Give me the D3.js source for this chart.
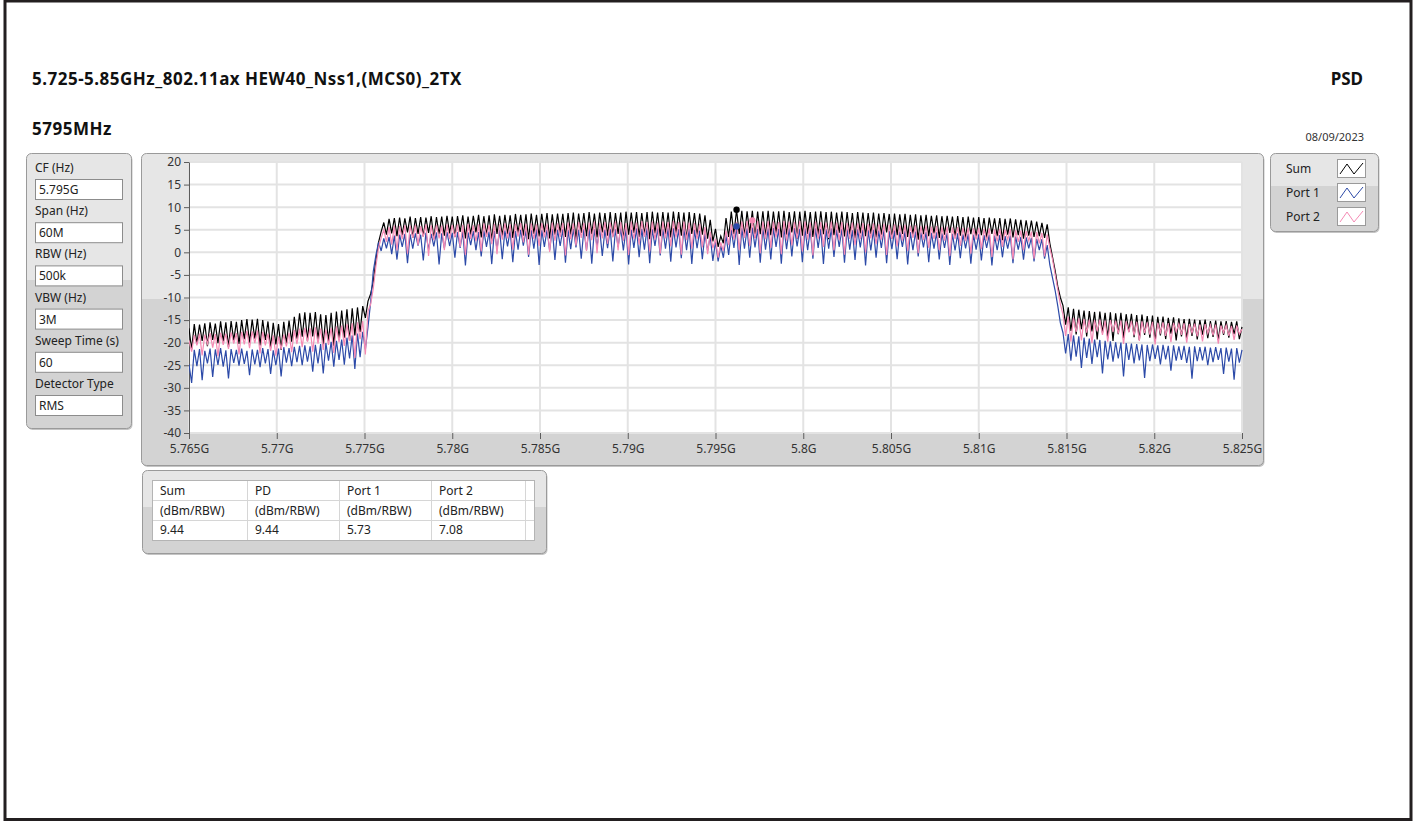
<!DOCTYPE html>
<html>
<head>
<meta charset="utf-8">
<script src="https://cdn.jsdelivr.net/npm/d3@7"></script>
<style>
  body { margin: 0; background: #fff; }
  text { font-family: "Segoe UI", "Noto Sans", sans-serif; }
</style>
</head>
<body>
<script>
const w = 1416
const h = 822

// sweep grid: 401 points, 5.765 GHz .. 5.825 GHz
const fStart = 5.765e9
const fStep = 0.15e6

// traces (dBm/RBW), one value per sweep point
const sumDbm = [
  -16.8, -21.5, -15.9, -20.2, -16.0, -19.6, -15.7, -20.8, -15.5, -19.4, -15.8, -20.1, -15.3, -19.7, -15.5, -21.0, -15.2, -19.5, -15.4, -20.3,
  -15.0, -19.2, -14.8, -20.0, -14.9, -19.1, -14.7, -20.6, -15.0, -19.4, -15.3, -21.2, -15.6, -20.4, -15.9, -21.6, -15.4, -20.2, -15.1, -19.8,
  -14.3, -19.1, -13.5, -18.7, -13.3, -19.6, -13.4, -18.6, -13.2, -19.3, -13.7, -20.4, -13.9, -19.8, -13.4, -20.7, -13.1, -19.2, -12.9, -18.9,
  -12.6, -19.6, -12.4, -18.4, -12.2, -17.6, -11.9, -14.5, -10.8, -9.2, -6.5, -1.8, 2.2, 4.6, 6.6, 3.9, 7.4, 4.2, 7.6, 3.6,
  7.7, 3.8, 7.5, 4.4, 7.9, 3.2, 7.6, 4.1, 7.8, 3.5, 7.7, 4.3, 8.0, 3.0, 7.8, 4.0, 7.9, 3.7, 8.1, 4.2,
  7.9, 3.4, 8.0, 4.5, 8.2, 3.1, 7.9, 3.9, 8.1, 4.4, 8.3, 3.3, 8.0, 3.8, 8.2, 2.6, 8.4, 4.1, 8.1, 3.6,
  8.3, 4.0, 8.2, 3.2, 8.5, 4.3, 8.3, 3.7, 8.4, 2.9, 8.6, 4.1, 8.3, 3.5, 8.5, 4.4, 8.7, 3.1, 8.4, 3.9,
  8.6, 4.2, 8.5, 3.4, 8.7, 3.9, 8.8, 2.8, 8.6, 4.3, 8.7, 3.6, 8.9, 4.0, 8.6, 3.3, 8.8, 4.4, 8.7, 3.7,
  8.9, 3.5, 8.7, 4.1, 8.8, 2.7, 9.0, 3.9, 8.8, 4.3, 8.9, 3.4, 8.7, 3.8, 8.9, 2.9, 9.0, 4.2, 8.8, 3.6,
  8.9, 4.0, 8.8, 3.3, 9.0, 4.2, 8.9, 3.7, 8.8, 2.8, 8.9, 4.1, 8.7, 3.5, 8.6, 3.9, 8.2, 3.0, 7.2, 2.4,
  5.2, 1.2, 3.6, 2.0, 7.6, 3.4, 9.0, 4.0, 9.44, 4.1, 9.2, 3.6, 9.1, 4.3, 9.2, 3.2, 9.0, 4.0, 9.1, 3.5,
  9.2, 3.8, 9.0, 4.2, 9.1, 3.3, 9.2, 3.9, 8.9, 4.4, 9.1, 3.0, 9.0, 3.7, 9.2, 4.1, 8.9, 3.4, 9.0, 3.8,
  9.1, 4.0, 8.9, 2.9, 9.0, 3.8, 8.8, 4.3, 9.0, 3.5, 8.9, 3.9, 8.7, 3.1, 8.9, 4.2, 8.8, 3.6, 8.7, 4.0,
  8.8, 3.3, 8.6, 3.9, 8.7, 4.4, 8.5, 3.0, 8.6, 3.8, 8.4, 4.1, 8.5, 3.4, 8.3, 3.9, 8.4, 2.8, 8.2, 4.0,
  8.3, 3.6, 8.1, 4.2, 8.2, 3.2, 8.0, 3.9, 8.1, 4.3, 7.9, 3.4, 8.0, 3.7, 7.8, 2.9, 7.9, 4.0, 7.7, 3.5,
  7.8, 3.8, 7.6, 3.1, 7.7, 4.1, 7.5, 3.6, 7.6, 2.7, 7.4, 3.9, 7.5, 3.3, 7.3, 3.8, 7.2, 3.0, 7.1, 3.7,
  7.0, 3.4, 6.8, 3.6, 6.5, 3.2, 6.2, 2.0, -1.0, -4.0, -7.5, -10.0, -11.8, -16.0, -12.2, -17.4, -12.5, -18.2, -12.7, -17.0,
  -12.9, -18.6, -13.0, -17.5, -13.2, -19.3, -13.1, -17.8, -13.4, -18.9, -13.3, -19.6, -13.5, -18.1, -13.4, -19.0, -13.7, -17.6, -13.6, -18.8,
  -13.9, -19.4, -13.8, -18.3, -14.1, -18.9, -14.0, -19.7, -14.3, -18.4, -14.2, -19.2, -14.5, -18.0, -14.4, -19.5, -14.6, -18.6, -14.8, -19.1,
  -14.7, -18.5, -14.9, -19.3, -15.0, -18.2, -14.9, -19.0, -15.2, -18.7, -15.1, -19.4, -15.3, -18.3, -15.2, -18.9, -15.4, -18.1, -15.3, -19.2,
  -16.5
]

const port1Dbm = [
  -24.8, -28.9, -21.6, -25.2, -21.4, -28.3, -21.8, -24.6, -21.3, -27.6, -21.5, -24.9, -21.2, -25.3, -21.7, -27.9, -21.4, -24.5, -21.6, -25.1,
  -21.3, -24.7, -21.8, -27.2, -21.5, -24.8, -21.6, -25.4, -21.2, -24.6, -21.4, -26.9, -21.7, -25.0, -21.3, -27.5, -21.0, -24.4, -21.2, -25.2,
  -20.9, -24.3, -20.7, -25.0, -20.6, -24.2, -20.8, -26.4, -20.5, -24.6, -20.3, -26.8, -20.1, -24.0, -19.8, -25.3, -19.6, -23.8, -19.3, -24.9,
  -18.9, -23.5, -18.4, -25.8, -18.0, -23.2, -17.6, -21.5, -16.5, -11.0, -4.2, -0.6, 2.2, 0.3, 3.1, 0.9, 3.4, -0.4, 3.7, -1.6,
  3.9, 1.2, 4.1, -2.4, 4.0, 0.8, 4.2, 1.5, 3.9, -1.8, 4.3, 0.6, 4.1, 1.3, 4.4, -2.7, 4.2, 0.9, 4.5, 1.4,
  4.3, -1.2, 4.5, 1.0, 4.6, -2.9, 4.4, 1.6, 4.7, 0.5, 4.5, -0.9, 4.8, 1.2, 4.6, -2.6, 4.7, 0.7, 4.9, -1.5,
  4.8, 1.3, 4.9, -2.2, 4.7, 0.6, 5.0, 1.5, 4.8, -1.0, 4.9, 0.8, 5.1, -2.8, 4.9, 1.2, 5.0, 0.4, 5.2, -1.7,
  5.0, 1.4, 5.1, -2.3, 4.9, 0.7, 5.2, 1.1, 5.0, -1.4, 5.1, 0.5, 5.3, -2.5, 5.1, 1.3, 5.2, -0.8, 5.0, 0.9,
  5.2, -2.0, 5.1, 1.2, 5.3, 0.4, 5.2, -2.7, 5.0, 1.0, 5.3, -1.1, 5.2, 0.6, 5.4, -2.4, 5.1, 1.4, 5.3, -0.7,
  5.2, 0.8, 5.4, -2.1, 5.3, 1.1, 5.1, -1.3, 5.3, 0.5, 5.2, -2.6, 5.0, 0.9, 4.8, -1.5, 4.2, 0.3, 3.5, -1.9,
  2.4, -2.0, 1.5, -1.2, 3.8, -0.6, 5.0, 1.0, 5.73, -2.8, 5.4, 0.8, 5.3, -1.2, 5.5, 1.1, 5.2, -2.3, 5.4, 0.6,
  5.3, -1.6, 5.4, 1.2, 5.2, -2.5, 5.5, 0.7, 5.3, -0.9, 5.4, 1.3, 5.2, -2.2, 5.3, 0.5, 5.1, -1.4, 5.3, 1.0,
  5.2, -2.6, 5.1, 0.8, 5.3, -1.0, 5.0, 1.2, 5.2, -2.3, 5.1, 0.6, 4.9, -1.7, 5.1, 1.1, 5.0, -2.9, 4.9, 0.4,
  5.0, -1.2, 4.8, 1.0, 4.9, -2.4, 4.7, 0.7, 4.8, -1.5, 4.6, 1.2, 4.7, -2.7, 4.5, 0.5, 4.6, -0.9, 4.4, 1.1,
  4.5, -2.2, 4.3, 0.8, 4.4, -1.6, 4.2, 1.0, 4.3, -2.8, 4.1, 0.4, 4.2, -1.3, 4.0, 0.9, 4.1, -2.5, 3.9, 0.6,
  4.0, -1.8, 3.8, 1.0, 3.9, -2.9, 3.7, 0.5, 3.8, -1.1, 3.6, 0.8, 3.7, -2.4, 3.5, 0.6, 3.4, -1.6, 3.3, 0.9,
  3.2, -2.0, 3.0, 0.5, 2.9, -1.4, 1.6, -2.8, -5.6, -8.4, -11.8, -15.6, -17.8, -22.4, -18.1, -24.0, -18.4, -23.1, -18.6, -25.6,
  -18.9, -23.4, -19.1, -24.7, -19.3, -23.2, -19.4, -26.8, -19.6, -23.7, -19.7, -24.2, -19.9, -23.5, -20.0, -27.5, -20.1, -23.8, -20.2, -24.6,
  -20.3, -23.9, -20.4, -27.8, -20.5, -24.1, -20.4, -23.6, -20.6, -24.8, -20.5, -23.7, -20.7, -26.2, -20.6, -24.0, -20.8, -23.8, -20.7, -24.5,
  -20.9, -28.0, -20.8, -24.1, -21.0, -23.9, -20.9, -25.0, -21.1, -24.3, -21.0, -23.8, -21.2, -26.9, -21.1, -24.2, -21.3, -28.2, -21.2, -24.4,
  -21.6
]

const port2Dbm = [
  -19.5, -22.0, -18.3, -20.6, -18.0, -22.8, -18.2, -20.3, -17.9, -21.1, -18.1, -23.0, -17.8, -20.5, -18.0, -21.4, -17.7, -20.2, -17.9, -22.6,
  -17.6, -20.4, -17.4, -21.2, -17.5, -20.1, -17.3, -22.4, -17.6, -20.6, -18.0, -21.8, -18.4, -22.9, -18.6, -21.5, -18.2, -20.8, -17.8, -22.1,
  -17.2, -20.3, -16.9, -21.0, -16.7, -19.8, -16.8, -22.0, -16.6, -20.2, -16.9, -21.6, -17.1, -20.5, -16.7, -22.3, -16.4, -19.9, -16.2, -20.7,
  -15.9, -19.6, -15.7, -23.4, -15.5, -19.2, -15.2, -22.6, -13.0, -11.5, -8.0, -3.0, 1.0, 3.2, 5.0, 2.3, 5.6, 1.7, 5.9, 0.4,
  5.8, 2.9, 6.0, -0.3, 5.9, 3.2, 6.1, 1.6, 5.8, 3.4, 6.2, -0.8, 6.0, 2.7, 6.1, 3.1, 5.9, 0.5, 6.2, 2.9,
  6.0, 3.3, 6.2, 1.2, 6.1, -0.6, 6.3, 3.0, 6.0, 2.5, 6.2, 0.2, 6.4, 3.4, 6.1, 1.8, 6.3, -0.4, 6.2, 2.8,
  6.4, 3.1, 6.2, 0.6, 6.3, 3.5, 6.5, 2.2, 6.3, -0.5, 6.4, 3.0, 6.2, 1.4, 6.5, 3.3, 6.3, 0.1, 6.6, 2.6,
  6.4, 3.4, 6.5, -0.7, 6.6, 2.9, 6.4, 1.5, 6.7, 3.2, 6.5, 0.3, 6.6, 2.7, 6.8, -0.2, 6.5, 3.1, 6.7, 1.9,
  6.6, 3.3, 6.8, 0.4, 6.7, 2.6, 6.5, -0.6, 6.8, 3.0, 6.6, 1.7, 6.9, 3.4, 6.7, 0.2, 6.8, 2.8, 6.6, -0.3,
  6.8, 3.1, 6.7, 1.3, 6.9, 3.3, 6.7, -0.5, 6.8, 2.7, 6.6, 0.8, 6.5, 3.0, 6.3, 1.1, 5.6, -0.4, 4.6, 0.9,
  3.0, -1.2, 2.2, 0.3, 4.8, 1.6, 6.2, 2.8, 6.7, 0.5, 6.8, 3.2, 6.9, 1.4, 7.08, 3.0, 6.9, -0.2, 6.8, 2.9,
  6.9, 1.0, 6.8, 3.3, 6.7, -0.4, 6.9, 2.6, 6.8, 1.5, 6.7, 3.1, 6.9, 0.2, 6.8, 2.8, 6.6, -0.7, 6.8, 3.0,
  6.7, 1.2, 6.6, 3.2, 6.8, 0.4, 6.6, 2.7, 6.7, -0.5, 6.5, 3.0, 6.6, 1.6, 6.4, 2.9, 6.5, 0.0, 6.3, 3.1,
  6.4, 1.8, 6.2, 2.8, 6.3, -0.6, 6.1, 3.0, 6.2, 1.3, 6.0, 2.6, 6.1, 0.3, 5.9, 3.2, 6.0, -0.2, 5.8, 2.7,
  5.9, 1.0, 5.7, 3.0, 5.8, 0.5, 5.6, 2.6, 5.7, -0.8, 5.5, 2.9, 5.6, 1.4, 5.4, 2.5, 5.5, -0.3, 5.3, 2.8,
  5.4, 0.7, 5.2, 2.6, 5.3, -1.0, 5.1, 2.4, 5.2, 1.2, 5.0, 2.8, 5.1, -1.6, 4.9, 2.3, 4.8, 0.4, 4.7, 2.5,
  4.6, -1.4, 4.5, 2.0, 4.3, -0.9, 4.0, 1.0, -1.5, -4.8, -8.2, -11.5, -13.8, -18.5, -14.2, -19.8, -14.5, -17.6, -14.6, -19.5,
  -14.8, -17.8, -14.9, -20.1, -15.0, -17.5, -14.9, -18.3, -15.1, -19.8, -15.0, -17.6, -15.2, -18.0, -15.1, -20.3, -15.3, -17.7, -15.2, -18.4,
  -15.4, -19.6, -15.3, -17.9, -15.5, -18.2, -15.4, -20.4, -15.6, -17.8, -15.5, -18.5, -15.7, -19.9, -15.6, -17.6, -15.8, -18.3, -15.7, -20.0,
  -15.9, -17.9, -15.8, -18.6, -16.0, -19.7, -15.9, -18.0, -16.1, -18.4, -16.0, -20.2, -16.2, -17.8, -16.1, -18.5, -16.3, -19.4, -16.2, -18.1,
  -17.0
]

const seriesNames = ['Sum', 'Port 1', 'Port 2']
const seriesColors = ['#000000', '#2c4aa8', '#f58ab4']

const xTickValues = [5.765e9, 5.77e9, 5.775e9, 5.78e9, 5.785e9, 5.79e9, 5.795e9, 5.8e9, 5.805e9, 5.81e9, 5.815e9, 5.82e9, 5.825e9]
const xTickLabels = ['5.765G', '5.77G', '5.775G', '5.78G', '5.785G', '5.79G', '5.795G', '5.8G', '5.805G', '5.81G', '5.815G', '5.82G', '5.825G']
const yTickValues = [20, 15, 10, 5, 0, -5, -10, -15, -20, -25, -30, -35, -40]

const settingLabels = ['CF (Hz)', 'Span (Hz)', 'RBW (Hz)', 'VBW (Hz)', 'Sweep Time (s)', 'Detector Type']
const settingValues = ['5.795G', '60M', '500k', '3M', '60', 'RMS']

const tableHeaders = ['Sum', 'PD', 'Port 1', 'Port 2']
const tableUnits = ['(dBm/RBW)', '(dBm/RBW)', '(dBm/RBW)', '(dBm/RBW)']
const tableValues = ['9.44', '9.44', '5.73', '7.08']

const svg = d3.select('body').append('svg').attr('width', w).attr('height', h)
const defs = svg.append('defs')

// page frame
svg.append('rect').attr('x', 5).attr('y', 1).attr('width', 1406).attr('height', 818.5)
  .attr('fill', '#fff').attr('stroke', '#231f20').attr('stroke-width', 3)

// headings
svg.append('text').attr('x', 32).attr('y', 85).attr('font-size', 17).attr('font-weight', 'bold').attr('fill', '#111')
  .attr('letter-spacing', 0.5).text('5.725-5.85GHz_802.11ax HEW40_Nss1,(MCS0)_2TX')
svg.append('text').attr('x', 32).attr('y', 135).attr('font-size', 17).attr('font-weight', 'bold').attr('fill', '#111')
  .attr('letter-spacing', 0.5).text('5795MHz')
svg.append('text').attr('x', 1363).attr('y', 85).attr('font-size', 17).attr('font-weight', 'bold').attr('fill', '#111')
  .attr('text-anchor', 'end').text('PSD')
svg.append('text').attr('x', 1364).attr('y', 141).attr('font-size', 11).attr('fill', '#333')
  .attr('text-anchor', 'end').text('08/09/2023')

// grey LabVIEW style panel, lighter top part
let gradN = 0
function panel(x, y, pw, ph, split) {
  const id = 'pg' + gradN++
  const f = (split - y) / ph
  const gr = defs.append('linearGradient').attr('id', id).attr('x1', 0).attr('y1', 0).attr('x2', 0).attr('y2', 1)
  gr.append('stop').attr('offset', f).attr('stop-color', '#e6e6e6')
  gr.append('stop').attr('offset', f).attr('stop-color', '#d3d3d3')
  svg.append('rect').attr('x', x + 1.5).attr('y', y + 2).attr('width', pw).attr('height', ph).attr('rx', 5)
    .attr('fill', '#c4c4c4')
  svg.append('rect').attr('x', x + 0.5).attr('y', y + 0.5).attr('width', pw).attr('height', ph).attr('rx', 5)
    .attr('fill', `url(#${id})`).attr('stroke', '#9a9a9a')
}

// settings panel
panel(26, 153, 105, 275, 280)
settingLabels.forEach((lab, i) => {
  const y0 = 168 + i * 43.2
  svg.append('text').attr('x', 35).attr('y', y0 + 4).attr('font-size', 12).attr('fill', '#222').text(lab)
  svg.append('rect').attr('x', 35.5).attr('y', y0 + 11.5).attr('width', 87).attr('height', 20)
    .attr('fill', '#fff').attr('stroke', '#8c8c8c')
  svg.append('text').attr('x', 39).attr('y', y0 + 26).attr('font-size', 12).attr('fill', '#222').text(settingValues[i])
})

// graph panel
panel(141, 153, 1122, 312, 298)

const x = d3.scaleLinear().domain([5.765e9, 5.825e9]).range([189, 1242])
const y = d3.scaleLinear().domain([-40, 20]).range([433, 162])

svg.append('rect').attr('x', x.range()[0]).attr('y', y.range()[1])
  .attr('width', x.range()[1] - x.range()[0]).attr('height', y.range()[0] - y.range()[1]).attr('fill', '#fff')

const grid = svg.append('g').attr('stroke', '#e3e3e3').attr('stroke-width', 2)
grid.selectAll('.gx').data(xTickValues).enter().append('line')
  .attr('x1', d => x(d)).attr('x2', d => x(d)).attr('y1', y(20)).attr('y2', y(-40))
grid.selectAll('.gy').data(yTickValues).enter().append('line')
  .attr('y1', d => y(d)).attr('y2', d => y(d)).attr('x1', x(5.765e9)).attr('x2', x(5.825e9))

const leftAxis = d3.axisLeft(y).tickValues(yTickValues).tickFormat(d => String(d)).tickSize(5).tickSizeOuter(0)
const gy = svg.append('g').attr('transform', 'translate(189,0)').call(leftAxis)
gy.select('.domain').attr('stroke', '#5c5c5c')
gy.selectAll('.tick line').attr('stroke', '#5c5c5c')
gy.selectAll('.tick text').attr('font-size', 12).attr('fill', '#333').attr('font-family', null)

const bottomAxis = d3.axisBottom(x).tickValues(xTickValues).tickFormat((d, i) => xTickLabels[i])
  .tickSize(6).tickSizeOuter(0).tickPadding(5)
const gx = svg.append('g').attr('transform', 'translate(0,433)').call(bottomAxis)
gx.select('.domain').attr('stroke', 'none')
gx.selectAll('.tick line').attr('stroke', '#5c5c5c')
gx.selectAll('.tick text').attr('font-size', 12).attr('fill', '#333').attr('font-family', null)

// traces
defs.append('clipPath').attr('id', 'plotclip').append('rect')
  .attr('x', 189).attr('y', 160).attr('width', 1054).attr('height', 275)
const line = d3.line().x((d, i) => x(fStart + i * fStep)).y(d => y(d))
const traces = [sumDbm, port1Dbm, port2Dbm]
const plot = svg.append('g').attr('clip-path', 'url(#plotclip)')
traces.forEach((vals, k) => {
  plot.append('path').datum(vals).attr('d', line).attr('fill', 'none')
    .attr('stroke', seriesColors[k]).attr('stroke-width', 1.2)
})
// peak markers
traces.forEach((vals, k) => {
  const i = d3.maxIndex(vals)
  svg.append('circle').attr('cx', x(fStart + i * fStep)).attr('cy', y(vals[i])).attr('r', 3.2)
    .attr('fill', seriesColors[k])
})

// legend panel
panel(1270, 153, 108, 78, 185)
seriesNames.forEach((name, k) => {
  const cy = 169 + k * 24
  svg.append('text').attr('x', 1286).attr('y', cy + 4).attr('font-size', 12).attr('fill', '#222').text(name)
  svg.append('rect').attr('x', 1337.5).attr('y', cy - 9.5).attr('width', 28).attr('height', 18)
    .attr('fill', '#fff').attr('stroke', '#9a9a9a')
  svg.append('path').attr('d', `M${1340},${cy + 5}L${1347},${cy - 5}L${1354},${cy + 5}L${1363},${cy - 6}`)
    .attr('fill', 'none').attr('stroke', seriesColors[k]).attr('stroke-width', 1)
})

// result table
panel(142, 470, 404, 83, 506)
svg.append('rect').attr('x', 152.5).attr('y', 480.5).attr('width', 382).attr('height', 60)
  .attr('fill', '#fff').attr('stroke', '#b4b4b4')
const colX = [152, 247, 339, 431, 525]
const tbl = svg.append('g').attr('stroke', '#d6d6d6')
colX.slice(1).forEach(cx => tbl.append('line').attr('x1', cx + 0.5).attr('x2', cx + 0.5).attr('y1', 481).attr('y2', 540))
;[500.5, 520.5].forEach(ry => tbl.append('line').attr('x1', 153).attr('x2', 534).attr('y1', ry).attr('y2', ry))
tableHeaders.forEach((t, i) => {
  svg.append('text').attr('x', colX[i] + 8).attr('y', 495).attr('font-size', 12).attr('fill', '#222').text(t)
  svg.append('text').attr('x', colX[i] + 8).attr('y', 515).attr('font-size', 12).attr('fill', '#222').text(tableUnits[i])
  svg.append('text').attr('x', colX[i] + 8).attr('y', 534).attr('font-size', 12).attr('fill', '#222').text(tableValues[i])
})
</script>
</body>
</html>
